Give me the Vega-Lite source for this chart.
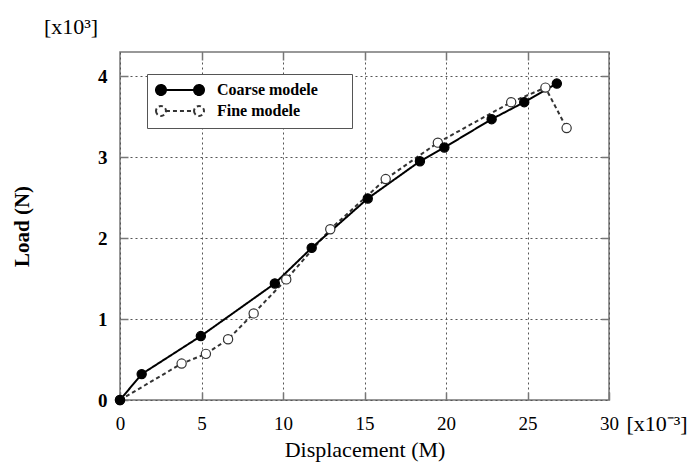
{
  "$schema": "https://vega.github.io/schema/vega-lite/v6.json",
  "width": 489,
  "height": 348,
  "autosize": "none",
  "padding": {"left": 120, "top": 52, "right": 85, "bottom": 66},
  "background": "white",
  "config": {
    "view": {"stroke": "#777", "strokeWidth": 1.5},
    "font": "Liberation Serif",
    "legend": {
      "orient": "none",
      "legendX": 27,
      "legendY": 22,
      "titleColor": "white",
      "titleOrient": "right",
      "titleFontSize": 6,
      "titlePadding": 24,
      "strokeColor": "#555",
      "fillColor": "white",
      "padding": 8,
      "labelFont": "Liberation Serif",
      "labelFontSize": 16,
      "labelFontWeight": "bold",
      "labelColor": "black",
      "symbolType": "M -4 0 M -3.17 0 m -0.83 0 a 0.83 0.83 0 1 0 1.66 0 a 0.83 0.83 0 1 0 -1.66 0 M -2.34 0 L 2.34 0 M 3.17 0 m -0.83 0 a 0.83 0.83 0 1 0 1.66 0 a 0.83 0.83 0 1 0 -1.66 0",
      "symbolSize": 144,
      "symbolStrokeWidth": 2,
      "symbolOffset": 17,
      "labelOffset": 29,
      "rowPadding": 3
    }
  },
  "data": {
    "values": [
      {"series": "Fine modele", "x": 0, "y": 0},
      {"series": "Fine modele", "x": 3.78, "y": 0.45},
      {"series": "Fine modele", "x": 5.27, "y": 0.57},
      {"series": "Fine modele", "x": 6.63, "y": 0.75},
      {"series": "Fine modele", "x": 8.2, "y": 1.07},
      {"series": "Fine modele", "x": 10.2, "y": 1.49},
      {"series": "Fine modele", "x": 12.9, "y": 2.11},
      {"series": "Fine modele", "x": 16.3, "y": 2.73},
      {"series": "Fine modele", "x": 19.5, "y": 3.18},
      {"series": "Fine modele", "x": 24.0, "y": 3.68},
      {"series": "Fine modele", "x": 26.1, "y": 3.86},
      {"series": "Fine modele", "x": 27.4, "y": 3.36},
      {"series": "Coarse modele", "x": 0, "y": 0},
      {"series": "Coarse modele", "x": 1.33, "y": 0.32},
      {"series": "Coarse modele", "x": 4.96, "y": 0.79},
      {"series": "Coarse modele", "x": 9.5, "y": 1.44},
      {"series": "Coarse modele", "x": 11.76, "y": 1.88},
      {"series": "Coarse modele", "x": 15.2, "y": 2.49},
      {"series": "Coarse modele", "x": 18.4, "y": 2.95},
      {"series": "Coarse modele", "x": 19.9, "y": 3.12},
      {"series": "Coarse modele", "x": 22.8, "y": 3.47},
      {"series": "Coarse modele", "x": 24.8, "y": 3.68},
      {"series": "Coarse modele", "x": 26.8, "y": 3.91}
    ]
  },
  "layer": [
    {
      "mark": {"type": "line", "strokeWidth": 2},
      "encoding": {
        "x": {
          "field": "x", "type": "quantitative",
          "scale": {"domain": [0, 30], "nice": false},
          "axis": {
            "orient": "bottom",
            "values": [0, 5, 10, 15, 20, 25, 30],
            "title": "Displacement (M)",
            "titleFontSize": 22, "titleFontWeight": "normal", "titleColor": "black",
            "titlePadding": 6,
            "labelFontSize": 19, "labelColor": "black", "labelPadding": 22, "labelFlush": false,
            "tickSize": -8, "tickColor": "#777", "tickWidth": 1.5,
            "grid": true, "gridDash": [2, 3], "gridColor": "#555", "gridWidth": 1,
            "domain": false
          }
        },
        "y": {
          "field": "y", "type": "quantitative",
          "scale": {"domain": [0, 4.3], "nice": false},
          "axis": {
            "orient": "left",
            "values": [0, 1, 2, 3, 4],
            "title": "Load (N)",
            "titleFontSize": 21, "titleFontWeight": "bold", "titleColor": "black",
            "titlePadding": 65,
            "labelFontSize": 19, "labelFontWeight": "bold", "labelColor": "black", "labelPadding": 21, "labelFlush": false,
            "tickSize": -8, "tickColor": "#777", "tickWidth": 1.5,
            "grid": true, "gridDash": [2, 3], "gridColor": "#555", "gridWidth": 1,
            "domain": false
          }
        },
        "stroke": {
          "field": "series", "type": "nominal",
          "scale": {"domain": ["Coarse modele", "Fine modele"], "range": ["#000000", "#333333"]},
          "legend": {"title": "."}
        },
        "strokeDash": {
          "field": "series", "type": "nominal",
          "scale": {"domain": ["Coarse modele", "Fine modele"], "range": [[1, 0], [4, 3]]},
          "legend": {"title": "."}
        }
      }
    },
    {
      "mark": {"type": "point", "shape": "circle", "size": 85, "filled": true, "strokeWidth": 1.2, "opacity": 1},
      "encoding": {
        "x": {
          "field": "x", "type": "quantitative",
          "axis": {"orient": "top", "values": [5, 10, 15, 20, 25], "labels": false, "title": null, "grid": false, "domain": false, "tickSize": -8, "tickColor": "#777", "tickWidth": 1.5}
        },
        "y": {
          "field": "y", "type": "quantitative",
          "axis": {"orient": "right", "values": [1, 2, 3, 4], "labels": false, "title": null, "grid": false, "domain": false, "tickSize": -8, "tickColor": "#777", "tickWidth": 1.5}
        },
        "fill": {
          "field": "series", "type": "nominal",
          "scale": {"domain": ["Coarse modele", "Fine modele"], "range": ["#000000", "#ffffff"]},
          "legend": {"title": "."}
        },
        "stroke": {
          "field": "series", "type": "nominal",
          "scale": {"domain": ["Coarse modele", "Fine modele"], "range": ["#000000", "#333333"]},
          "legend": {"title": "."}
        }
      }
    },
    {
      "data": {"values": [{"label": "[x10³]"}]},
      "mark": {"type": "text", "font": "Liberation Serif", "fontSize": 22, "dx": -49, "dy": -25, "align": "center", "baseline": "middle", "fill": "#000000"},
      "encoding": {
        "text": {"field": "label"},
        "x": {"datum": 0, "type": "quantitative", "axis": null},
        "y": {"datum": 4.3, "type": "quantitative", "axis": null}
      }
    },
    {
      "data": {"values": [{"label": "[x10⁻³]"}]},
      "mark": {"type": "text", "font": "Liberation Serif", "fontSize": 22, "dx": 48, "dy": 24, "align": "center", "baseline": "middle", "fill": "#000000"},
      "encoding": {
        "text": {"field": "label"},
        "x": {"datum": 30, "type": "quantitative", "axis": null},
        "y": {"datum": 0, "type": "quantitative", "axis": null}
      }
    }
  ],
  "resolve": {"axis": {"x": "independent", "y": "independent"}}
}
